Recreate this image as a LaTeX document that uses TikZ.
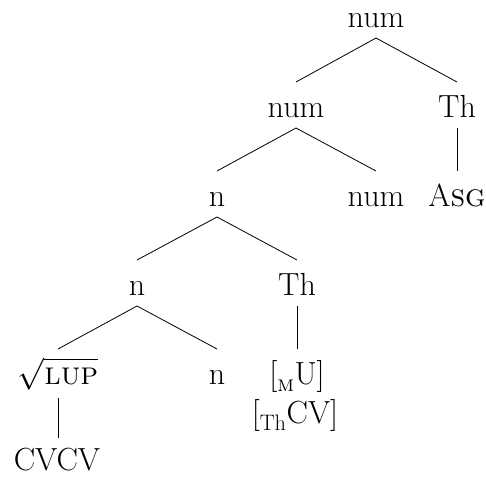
\documentclass[tikz,border=0pt]{standalone}
\usepackage{fontspec}
\usepackage{unicode-math}
\usetikzlibrary{calc}
\newcommand\treeedge[2]{\draw[edge] ($(#1.base)+(0,11)$) -- ($(#2.base)+(0,-35)$);}
\begin{document}
\begin{tikzpicture}[x=1pt,y=-1pt,
  tn/.style={anchor=base,inner sep=0pt,font=\fontsize{32}{38}\selectfont},
  edge/.style={line width=0.8pt}]
\useasboundingbox (0,0) rectangle (486,477);
\node[tn] (r) at (376,27) {num};
\node[tn] (a) at (296,117) {num};
\node[tn] (b) at (457,117) {Th};
\node[tn] (c) at (217,206) {n};
\node[tn] (d) at (376,206) {num};
\node[tn] (e) at (457,206) {A\textsc{sg}};
\node[tn] (f) at (137,295) {n};
\node[tn] (g) at (297,295) {Th};
\node[tn] (h) at (58,384) {$\sqrt{\mbox{\textsc{lup}}}$};
\node[tn] (i) at (217,384) {n};
\node[tn] (j) at (297,384) {[\textsubscript{\textsc{m}}U]};
\node[tn] (l) at (295,423) {[\textsubscript{Th}CV]};
\node[tn] (k) at (57,470) {CVCV};
\treeedge{r}{a}
\treeedge{r}{b}
\treeedge{a}{c}
\treeedge{a}{d}
\treeedge{b}{e}
\treeedge{c}{f}
\treeedge{c}{g}
\treeedge{f}{h}
\treeedge{f}{i}
\treeedge{g}{j}
\draw[edge] ($(h.base)+(0,14)$) -- ($(h.base |- k.base)+(0,-32)$);
\end{tikzpicture}
\end{document}
